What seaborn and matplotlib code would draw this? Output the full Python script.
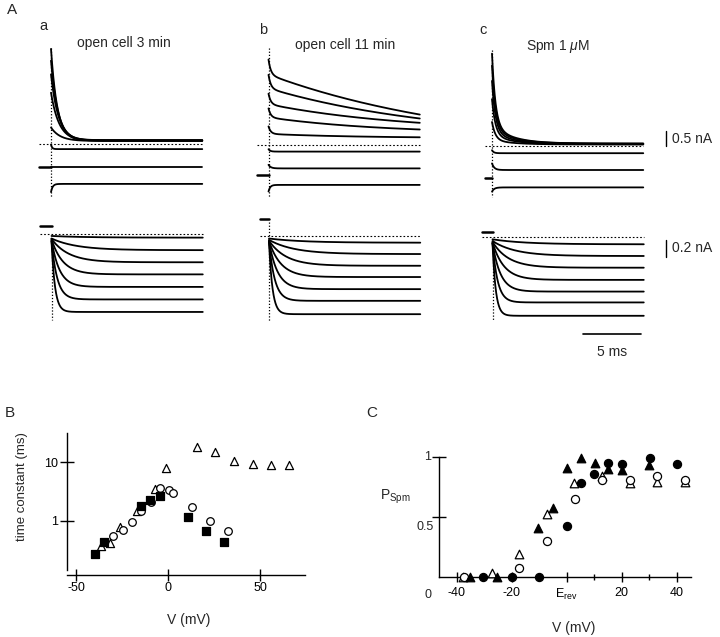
import numpy as np
import pandas as pd
import matplotlib

matplotlib.use("Agg")
import matplotlib.pyplot as plt
from matplotlib.ticker import NullLocator
import seaborn as sns

W, H = 720, 637

# ---------------- panel A: current traces (time in ms, current in nA) ----------------
# each trace: steady level + slow relaxation (+ fast spike)
a_top_steady = [0.12, 0.13, 0.12, 0.11, 0.10, -0.17, -0.76, -1.33]
a_top_amp = [3.05, 2.65, 2.20, 1.60, 0.45, 0.15, 0.0, -0.27]
a_top_tau = [0.55, 0.60, 0.65, 0.70, 0.80, 0.10, 0.20, 0.15]

b_top_steady = [-0.22, 0.17, 0.43, 0.37, 0.23, -0.22, -0.78, -1.33]
b_top_amp = [2.57, 1.72, 0.93, 0.55, 0.14, 0.08, 0.12, -0.22]
b_top_tau = [18.0, 15.0, 12.0, 10.0, 8.0, 0.15, 0.20, 0.15]
b_top_spike = [0.50, 0.45, 0.35, 0.30, 0.25, 0.0, 0.0, 0.0]

c_top_steady = [0.08, 0.08, 0.07, 0.06, 0.05, -0.24, -0.80, -1.38]
c_top_amp = [0.60, 0.50, 0.40, 0.30, 0.15, 0.10, 0.22, -0.14]
c_top_tau = [1.8, 1.8, 1.8, 1.8, 1.8, 0.15, 0.20, 0.20]
c_top_spike = [2.40, 2.10, 1.70, 1.20, 0.60, 0.0, 0.0, 0.0]

a_bot_steady = [-0.04, -0.19, -0.335, -0.48, -0.63, -0.78, -0.93]
a_bot_amp = [0.02, 0.14, 0.28, 0.42, 0.56, 0.70, 0.85]
a_bot_tau = [3.0, 2.2, 1.5, 1.0, 0.70, 0.50, 0.30]

b_bot_steady = [-0.084, -0.22, -0.36, -0.495, -0.64, -0.78, -0.94]
b_bot_amp = [0.05, 0.17, 0.30, 0.43, 0.57, 0.71, 0.87]
b_bot_tau = [3.0, 2.2, 1.5, 1.05, 0.75, 0.50, 0.30]

c_bot_steady = [-0.084, -0.224, -0.364, -0.51, -0.65, -0.78, -0.94]
c_bot_amp = [0.06, 0.18, 0.31, 0.45, 0.58, 0.71, 0.87]
c_bot_tau = [2.8, 2.0, 1.4, 1.0, 0.70, 0.45, 0.28]

# holding current before the step (nA) and where it starts (ms)
hold_top = [-0.76, -1.00, -1.06]
hold_top_start = [-1.02, -0.96, -0.60]
hold_bot = [0.10, 0.196, 0.067]
hold_bot_start = [-1.00, -0.80, -0.90]

# capacitive artifact extent (nA)
artifact_top = [(3.20, -1.77), (3.23, -1.73), (3.20, -1.70)]
artifact_bot = [(-0.04, -1.03), (0.17, -1.03), (-0.03, -0.99)]

panel_titles = ["open cell 3 min", "open cell 11 min", r"Spm 1 $\mu$M"]
panel_letters = ["a", "b", "c"]

# ---------------- panel B: time constants ----------------
b_tri_v = [-36.7, -31.6, -26.2, -16.7, -6.9, -1.3, 15.6, 25.5, 35.6, 45.8, 55.6, 65.6]
b_tri_tau = [0.37, 0.42, 0.77, 1.48, 3.56, 7.9, 18.0, 15.0, 10.7, 9.5, 9.1, 9.1]
b_circ_v = [-29.8, -24.5, -19.8, -14.5, -9.5, -4.5, 0.5, 2.7, 12.7, 22.7, 32.7]
b_circ_tau = [0.54, 0.70, 0.95, 1.48, 2.08, 3.7, 3.4, 3.0, 1.69, 1.0, 0.66]
b_sq_v = [-39.8, -34.9, -14.9, -9.8, -4.5, 10.5, 20.5, 30.5]
b_sq_tau = [0.27, 0.43, 1.82, 2.28, 2.6, 1.15, 0.67, 0.44]

# ---------------- panel C: P_Spm ----------------
c_tri_open_v = [-37.6, -27.3, -17.2, -7.3, 2.7, 12.9, 22.9, 32.8, 42.9]
c_tri_open_p = [0.0, 0.03, 0.19, 0.52, 0.78, 0.84, 0.78, 0.79, 0.79]
c_circ_open_v = [-37.3, -17.2, -7.0, 3.0, 12.9, 23.2, 32.8, 42.9]
c_circ_open_p = [0.0, 0.07, 0.30, 0.65, 0.81, 0.81, 0.84, 0.81]
c_tri_fill_v = [-35.2, -25.2, -10.3, -5.1, 0.0, 5.1, 10.3, 15.2, 20.0, 30.0]
c_tri_fill_p = [0.0, 0.0, 0.41, 0.57, 0.91, 0.99, 0.95, 0.90, 0.89, 0.93]
c_circ_fill_v = [-30.3, -20.0, -9.9, 0.0, 5.1, 9.9, 15.2, 20.2, 30.3, 40.3]
c_circ_fill_p = [0.0, 0.0, 0.0, 0.42, 0.78, 0.86, 0.95, 0.94, 0.99, 0.94]

c_xticks = [-40, -20, 0, 20, 40]
c_xticklabels = ["-40", "-20", r"E$_{\rm rev}$", "20", "40"]

# ---------------- layout (pixels) ----------------
PX_PER_MS = 11.46
T_LIM = (-1.5, 13.5)
T_END = 13.2
TOP_SCALE, TOP_YLIM = 30.0, (-1.9, 3.4)
BOT_SCALE, BOT_YLIM = 83.5, (-1.15, 0.35)
onset_top = [51.0, 268.5, 492.0]
base_top = [144.0, 145.0, 146.0]
onset_bot = [51.5, 269.0, 492.5]
base_bot = [234.3, 235.7, 237.3]

sns.set_style("ticks")
plt.rcParams["font.family"] = ["Liberation Sans", "DejaVu Sans"]
plt.rcParams["mathtext.fontset"] = "custom"
plt.rcParams["mathtext.rm"] = "Liberation Sans"
plt.rcParams["mathtext.it"] = "Liberation Sans:italic"
plt.rcParams["axes.unicode_minus"] = False
plt.rcParams["axes.linewidth"] = 1.0
plt.rcParams["axes.edgecolor"] = "black"
plt.rcParams["xtick.color"] = "black"
plt.rcParams["ytick.color"] = "black"

fig = plt.figure(figsize=(W / 100, H / 100), dpi=100)


def px_axes(left, top, width, height):
    return fig.add_axes([left / W, 1 - (top + height) / H, width / W, height / H])


def px_text(x, y, s, **kw):
    kw.setdefault("ha", "center")
    kw.setdefault("va", "center")
    fig.text(x / W, 1 - y / H, s, **kw)


t = np.linspace(0, T_END, 661)


def trace_frame(steady, amp, tau, spike=None, tau_spike=0.25):
    parts = []
    for k in range(len(steady)):
        cur = steady[k] + amp[k] * np.exp(-t / tau[k])
        if spike is not None:
            cur = cur + spike[k] * np.exp(-t / tau_spike)
        parts.append(pd.DataFrame({"t": t, "i": cur, "trace": k}))
    return pd.concat(parts, ignore_index=True)


def trace_axes(onset, base, scale, ylim):
    left = onset + T_LIM[0] * PX_PER_MS
    width = (T_LIM[1] - T_LIM[0]) * PX_PER_MS
    top = base - ylim[1] * scale
    height = (ylim[1] - ylim[0]) * scale
    ax = px_axes(left, top, width, height)
    ax.set_xlim(T_LIM)
    ax.set_ylim(ylim)
    ax.axis("off")
    return ax


def draw_traces(ax, frame, hold, hold_start, artifact):
    sns.lineplot(data=frame, x="t", y="i", units="trace", estimator=None, sort=False,
                 color="black", linewidth=1.3, legend=False, ax=ax)
    ax.plot([hold_start, 0], [hold, hold], color="black", linewidth=1.8)
    ax.plot([0, 0], artifact, color="black", linestyle=(0, (1, 1.5)), linewidth=0.9)
    ax.plot([hold_start, T_END], [0, 0], color="black", linestyle=(0, (1.5, 1.8)), linewidth=0.8)


top_frames = [
    trace_frame(a_top_steady, a_top_amp, a_top_tau),
    trace_frame(b_top_steady, b_top_amp, b_top_tau, b_top_spike, 0.2),
    trace_frame(c_top_steady, c_top_amp, c_top_tau, c_top_spike, 0.3),
]
bot_frames = [
    trace_frame(a_bot_steady, a_bot_amp, a_bot_tau),
    trace_frame(b_bot_steady, b_bot_amp, b_bot_tau),
    trace_frame(c_bot_steady, c_bot_amp, c_bot_tau),
]

top_axes, bot_axes = [], []
for k in range(3):
    ax = trace_axes(onset_top[k], base_top[k], TOP_SCALE, TOP_YLIM)
    draw_traces(ax, top_frames[k], hold_top[k], hold_top_start[k], artifact_top[k])
    top_axes.append(ax)
    ax = trace_axes(onset_bot[k], base_bot[k], BOT_SCALE, BOT_YLIM)
    draw_traces(ax, bot_frames[k], hold_bot[k], hold_bot_start[k], artifact_bot[k])
    bot_axes.append(ax)

# scale bars
top_axes[2].plot([15.16, 15.16], [0.0, 0.5], color="black", linewidth=1.0, clip_on=False)
top_axes[2].text(15.7, 0.23, "0.5 nA", fontsize=10, va="center", ha="left")
bot_axes[2].plot([15.1, 15.1], [-0.03, -0.23], color="black", linewidth=1.0, clip_on=False)
bot_axes[2].text(15.65, -0.13, "0.2 nA", fontsize=10, va="center", ha="left")
bot_axes[2].plot([7.92, 12.92], [-1.158, -1.158], color="black", linewidth=1.2, clip_on=False)
bot_axes[2].text(10.42, -1.37, "5 ms", fontsize=10, va="center", ha="center")

px_text(11.7, 10, "A", fontsize=11)
letter_xy = [(43, 26), (262.7, 30), (482.7, 30)]
title_xy = [(124, 43), (345, 45), (558, 46.7)]
for k in range(3):
    px_text(*letter_xy[k], panel_letters[k], fontsize=10.5)
    px_text(*title_xy[k], panel_titles[k], fontsize=10)

# ---------------- panel B ----------------
axB = px_axes(67, 433, 238, 137)
open_kw = dict(facecolor="white", edgecolor="black", linewidth=0.9, clip_on=False, zorder=3, ax=axB)
sns.scatterplot(x=b_tri_v, y=b_tri_tau, marker="^", s=34, **open_kw)
sns.scatterplot(x=b_circ_v, y=b_circ_tau, marker="o", s=30, **open_kw)
sns.scatterplot(x=b_sq_v, y=b_sq_tau, marker="s", s=26, facecolor="black", edgecolor="black",
                linewidth=0.9, clip_on=False, zorder=3, ax=axB)
axB.set_yscale("log")
axB.set_xlim(-54.9, 74.2)
axB.set_ylim(0.143, 31.8)
axB.set_xticks([-50, 0, 50])
axB.set_yticks([1, 10])
axB.set_yticklabels(["1", "10"])
axB.yaxis.set_minor_locator(NullLocator())
axB.tick_params(axis="x", direction="inout", length=8.6, width=1.0, pad=0.5, labelsize=9)
axB.tick_params(axis="y", direction="inout", length=10, width=1.0, pad=1.5, labelsize=9)
sns.despine(ax=axB)
axB.spines["bottom"].set_position(("outward", 3.6))
axB.set_xlabel("")
axB.set_ylabel("")
px_text(10, 413, "B", fontsize=11)
px_text(189, 620, "V (mV)", fontsize=10)
px_text(21.7, 487, "time constant (ms)", fontsize=9.5, rotation=90)

# ---------------- panel C ----------------
axC = px_axes(439.3, 456.7, 251.4, 120)
openC = dict(facecolor="white", edgecolor="black", linewidth=0.9, clip_on=False, zorder=3, ax=axC)
fillC = dict(facecolor="black", edgecolor="black", linewidth=0.9, clip_on=False, zorder=3, ax=axC)
sns.scatterplot(x=c_tri_open_v, y=c_tri_open_p, marker="^", s=38, **openC)
sns.scatterplot(x=c_circ_open_v, y=c_circ_open_p, marker="o", s=34, **openC)
sns.scatterplot(x=c_tri_fill_v, y=c_tri_fill_p, marker="^", s=38, **fillC)
sns.scatterplot(x=c_circ_fill_v, y=c_circ_fill_p, marker="o", s=34, **fillC)
axC.set_xlim(-46.3, 45.1)
axC.set_ylim(0, 1)
axC.set_xticks(c_xticks)
axC.set_xticklabels(c_xticklabels)
axC.set_xticks([-30, -10, 10, 30], minor=True)
axC.set_yticks([0.5, 1])
axC.set_yticklabels([])
axC.tick_params(axis="x", which="major", direction="inout", length=7, width=1.0, pad=4, labelsize=9)
axC.tick_params(axis="x", which="minor", direction="inout", length=4, width=1.0)
axC.tick_params(axis="y", direction="inout", length=9.4, width=1.0)
sns.despine(ax=axC)
axC.set_xlabel("")
axC.set_ylabel("")
px_text(372, 413, "C", fontsize=11)
px_text(428.3, 595, "0", fontsize=9)
px_text(425, 527, "0.5", fontsize=9)
px_text(428, 456.7, "1", fontsize=9)
px_text(395, 496.7, r"P$_{\rm Spm}$", fontsize=10)
px_text(573.3, 628, "V (mV)", fontsize=10)

fig.savefig("out.png", dpi=100)
